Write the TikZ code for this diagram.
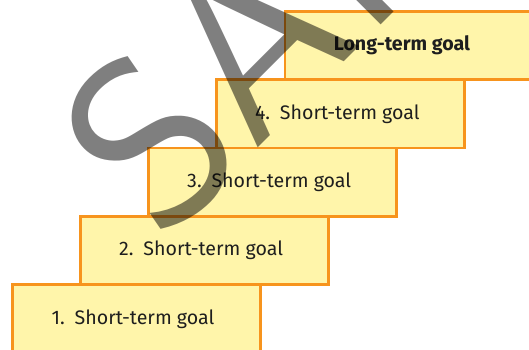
\documentclass[tikz,border=0pt]{standalone}
\usepackage{fontspec}
\usepackage{tikz}
\setmainfont{Fira Sans}
\newfontfamily\stampfont{lmsans10-regular.otf}
\definecolor{stepfill}{RGB}{255,245,170}
\definecolor{stepline}{RGB}{247,148,29}
\definecolor{steptext}{RGB}{30,30,30}

\begin{document}
\begin{tikzpicture}[x=1pt,y=1pt,
  stair/.style={draw=stepline,line width=2.7pt,fill=stepfill,minimum width=248pt,minimum height=68.3pt,inner sep=0pt,text=steptext,font=\fontsize{19.6}{24}\selectfont},
  stamp/.style={rotate=45,anchor=base west,inner sep=0pt,opacity=0.5,font=\stampfont\fontsize{235}{235}\selectfont},
]
\useasboundingbox (0,0) rectangle (529,349);
\clip (0,0) rectangle (529,349);
% staircase, bottom step first (labels sit a little left of centre)
\node[stair] (s1) at (136.5,30.15) {1.\enspace Short-term goal\hspace*{7pt}};
\node[stair] (s2) at (204.6,98.45) {2.\enspace Short-term goal\hspace*{7pt}};
\node[stair] (s3) at (272.7,166.75) {3.\enspace Short-term goal\hspace*{7pt}};
\node[stair] (s4) at (340.8,235.05) {4.\enspace Short-term goal\hspace*{7pt}};
\node[stair] (goal) at (408.9,303.35) {\bfseries Long-term goal\hspace*{14pt}};
% watermark over the steps
\node[stamp] (mark) at (161,104) {SAMPLE};
\end{tikzpicture}
\end{document}
